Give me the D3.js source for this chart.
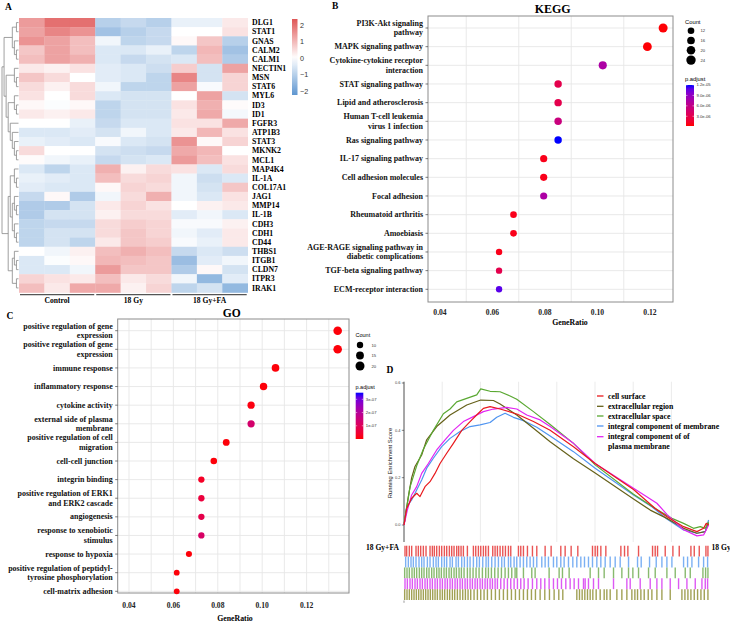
<!DOCTYPE html>
<html><head><meta charset="utf-8">
<script src="https://cdn.jsdelivr.net/npm/d3@7"></script>
<style>body{margin:0;background:#fff} svg{display:block}</style>
</head><body>
<svg id="c" width="730" height="623"></svg>
<script>
// ================= DATA =================
// Panel A: heatmap
const genes = ["DLG1","STAT1","GNAS","CALM2","CALM1","NECTIN1","MSN","STAT6","MYL6","ID3","ID1","FGFR3","ATP1B3","STAT3","MKNK2","MCL1","MAP4K4","IL-1A","COL17A1","JAG1","MMP14","IL-1B","CDH3","CDH1","CD44","THBS1","ITGB1","CLDN7","ITPR3","IRAK1"];
const samples = ["C1","C2","C3","G1","G2","G3","F1","F2","F3"];
const groups = ["Control","18 Gy","18 Gy+FA"];
const groupSamples = [["C1","C2","C3"],["G1","G2","G3"],["F1","F2","F3"]];
const heat = [
 [1.4,2.0,2.0,-1.0,-0.8,-1.0,-0.3,-0.3,0.3],
 [1.3,1.7,1.5,-1.3,-1.0,-0.8,0.0,0.0,0.4],
 [1.5,1.3,0.9,-0.2,-0.9,-0.8,0.1,0.8,-1.0],
 [0.8,1.3,0.9,-0.5,-0.5,-0.3,-0.9,1.0,-1.3],
 [0.9,1.3,1.1,-0.5,-0.8,-0.6,-0.5,0.9,-1.1],
 [0.3,0.2,0.4,-0.4,-0.5,-0.7,0.7,-0.6,1.3],
 [0.8,0.5,0.0,-0.4,-0.5,-0.9,1.7,-0.6,0.6],
 [0.5,0.2,0.5,-0.2,-0.9,-0.9,1.3,-0.1,0.6],
 [0.4,0.0,0.5,-0.5,-0.6,-0.6,0.0,1.3,-0.6],
 [0.1,-0.05,0.1,-0.9,-0.6,-0.6,0.4,1.1,0.05],
 [0.3,0.2,0.3,-0.9,-0.6,-0.6,0.3,1.2,-0.15],
 [0.0,0.0,-0.3,-0.8,-0.5,-0.5,0.4,0.4,1.2],
 [-0.5,-0.5,-0.4,-0.6,-0.2,-0.5,0.3,1.0,0.4],
 [-0.3,-0.4,-0.5,-0.1,-0.5,-0.6,1.5,0.1,0.6],
 [0.5,0.0,0.0,-0.6,-0.7,-0.8,1.2,1.0,0.0],
 [0.05,-0.2,-0.3,-0.8,-0.6,-0.5,1.4,0.9,0.4],
 [-0.5,-0.9,-0.5,1.1,0.2,0.5,0.4,-0.5,0.5],
 [-0.3,-0.4,-0.5,0.9,0.5,0.6,-0.2,-0.7,-0.5],
 [-0.4,-0.5,-0.5,0.1,0.6,0.5,-0.2,-0.6,0.8],
 [-0.8,0.1,-1.1,-0.2,0.5,1.1,-0.2,-0.5,0.4],
 [-1.1,-1.1,-0.6,0.3,0.6,0.4,0.0,0.2,0.3],
 [-1.1,-0.6,-0.6,0.2,0.5,0.5,-0.4,-0.2,-0.5],
 [-0.9,-0.8,-0.8,0.5,0.7,0.6,-0.1,-0.1,0.2],
 [-0.9,-0.6,-0.6,0.5,0.8,0.6,-0.2,-0.4,0.3],
 [-0.9,-0.6,-0.9,0.3,0.8,0.7,-0.1,-0.3,0.3],
 [0.0,-0.2,0.2,0.9,1.1,0.9,-0.8,-0.5,-0.7],
 [-0.5,-0.05,0.1,1.0,0.9,0.8,-1.4,-0.4,-0.2],
 [-0.5,-0.5,-0.2,1.4,0.8,0.8,-1.1,0.1,-0.6],
 [0.6,0.4,0.3,0.9,0.3,0.5,-0.2,-1.5,-0.4],
 [0.9,0.3,1.2,1.2,0.2,0.6,-0.9,-0.6,-1.5]
];
const heatLegendTicks = [2,1,0,-1,-2];
// row dendrogram (leaf = row index)
const dendroTree = [[[[0,1],[2,[3,4]]],[[5,[6,7]],[[8,[9,10]],[11,[12,[13,[14,15]]]]]]],
                    [[[16,[17,18]],[[19,[20,21]],[22,[23,24]]]],[[25,[26,27]],[28,29]]]];

// Panel B: KEGG
const keggTerms = ["PI3K-Akt signaling\npathway","MAPK signaling pathway","Cytokine-cytokine receptor\ninteraction","STAT signaling pathway","Lipid and atherosclerosis","Human T-cell leukemia\nvirus 1 infection","Ras signaling pathway","IL-17 signaling pathway","Cell adhesion molecules","Focal adhesion","Rheumatoid arthritis","Amoebiasis","AGE-RAGE signaling pathway in\ndiabetic complications","TGF-beta signaling pathway","ECM-receptor interaction"];
const keggRatio = [0.125,0.119,0.102,0.085,0.085,0.085,0.085,0.0795,0.0795,0.0795,0.068,0.068,0.0625,0.0625,0.0625];
const keggCount = [22,21,18,15,15,15,15,14,14,14,12,12,11,11,11];
const keggPadj = [3e-7,3e-7,7.5e-6,3.0e-6,3.0e-6,5.5e-6,1.2e-5,8e-7,8e-7,7.5e-6,8e-7,8e-7,8e-7,3.0e-6,1.1e-5];
const keggTickLabels = [0.04,0.06,0.08,0.10,0.12];
const keggGrid = [0.05,0.07,0.09,0.11];
const keggSizeBreaks = [12,16,20,24];
const keggPadjBreaks = [1.2e-5,9.0e-6,6.0e-6,3.0e-6];
const keggPadjLabels = ["1.2e-05","9.0e-06","6.0e-06","3.0e-06"];

// Panel C: GO
const goTerms = ["positive regulation of gene\nexpression","positive regulation of gene\nexpression","immune response","inflammatory response","cytokine activity","external side of plasma\nmembrane","positive regulation of cell\nmigration","cell-cell junction","integrin binding","positive regulation of ERK1\nand ERK2 cascade","angiogenesis","response to xenobiotic\nstimulus","response to hypoxia","positive regulation of peptidyl-\ntyrosine phosphorylation","cell-matrix adhesion"];
const goRatio = [0.134,0.134,0.106,0.1006,0.095,0.095,0.0838,0.0782,0.0726,0.0726,0.0726,0.0726,0.067,0.0615,0.0615];
const goCount = [24,24,19,18,17,17,15,14,13,13,13,13,12,11,11];
const goPadj = [5e-9,5e-9,5e-9,5e-9,1e-8,1.3e-7,5e-9,5e-9,3e-8,6e-8,8e-8,1.2e-7,5e-9,5e-9,5e-9];
const goTickLabels = [0.04,0.06,0.08,0.10,0.12];
const goGrid = [0.04,0.05,0.06,0.07,0.08,0.09,0.10,0.11,0.12,0.13];
const goSizeBreaks = [10,15,20];
const goPadjBreaks = [3e-7,2e-7,1e-7];
const goPadjLabels = ["3e-07","2e-07","1e-07"];

// Panel D: GSEA (rank, running ES)
const gseaSets = ["cell surface","extracellular region","extracellular space","integral component of membrane","integral component of of\nplasma membrane"];
const esCellSurface = [[0,0],[8,0.07],[23,0.113],[38,0.134],[48,0.12],[63,0.162],[78,0.183],[93,0.218],[108,0.26],[128,0.303],[148,0.345],[173,0.40],[198,0.437],[223,0.472],[238,0.493],[258,0.50],[288,0.49],[338,0.469],[388,0.437],[438,0.40],[508,0.331],[573,0.26],[688,0.15],[753,0.07],[788,0.035],[838,-0.007],[878,-0.028],[898,-0.014],[906,0.007],[913,0]];
const esExtRegion = [[0,0],[13,0.12],[23,0.2],[33,0.247],[53,0.296],[68,0.36],[98,0.416],[138,0.465],[188,0.507],[230,0.528],[268,0.526],[288,0.511],[338,0.465],[388,0.409],[438,0.352],[508,0.28],[573,0.22],[688,0.11],[738,0.063],[788,0.028],[838,-0.014],[878,-0.035],[903,-0.028],[913,0.007]];
const esExtSpace = [[0,0],[10,0.09],[18,0.16],[38,0.25],[58,0.32],[88,0.40],[118,0.47],[138,0.49],[158,0.52],[188,0.535],[218,0.55],[230,0.575],[258,0.565],[288,0.563],[318,0.545],[338,0.531],[388,0.479],[438,0.425],[508,0.345],[573,0.254],[688,0.13],[758,0.065],[803,0.028],[838,0.007],[868,-0.014],[888,-0.007],[903,-0.014],[913,0.014]];
const esIntMembrane = [[0,0],[8,0.077],[23,0.106],[38,0.148],[53,0.19],[68,0.24],[88,0.282],[113,0.331],[138,0.366],[168,0.395],[198,0.416],[228,0.423],[258,0.433],[278,0.455],[303,0.472],[328,0.455],[358,0.441],[398,0.413],[438,0.376],[508,0.31],[573,0.24],[688,0.127],[743,0.077],[788,0.025],[838,-0.021],[878,-0.035],[903,-0.028],[913,0.021]];
const esIntPlasma = [[0,0],[10,0.063],[23,0.127],[38,0.162],[53,0.218],[73,0.26],[98,0.317],[123,0.36],[148,0.40],[178,0.437],[208,0.458],[238,0.479],[268,0.49],[308,0.497],[338,0.49],[368,0.465],[408,0.444],[438,0.416],[508,0.345],[573,0.26],[688,0.155],[758,0.092],[788,0.045],[838,-0.02],[878,-0.046],[898,-0.042],[913,0]];
const gseaYTicks = [0,0.2,0.4,0.6];
const gseaGrid = [114.5,229,343.5,458,572.5,687,801.5];
const gseaRankMax = 916;
// barcode hit positions (rank)
const hitsRed = [3,8,16,23,36,43,50,58,66,78,85,91,98,106,113,121,128,136,143,150,158,164,171,178,190,208,215,223,230,238,245,253,266,273,280,288,296,304,313,320,343,350,358,370,385,398,423,441,470,483,501,521,565,573,580,590,605,650,661,671,703,745,753,760,783,806,825,860,870,885,905,911];
const hitsBlue = [5,13,21,28,36,45,53,60,70,78,88,96,103,113,121,128,138,145,156,163,173,181,190,198,208,218,226,236,246,253,263,273,283,293,301,313,320,330,338,348,358,368,378,388,398,413,423,433,448,458,470,480,493,506,518,530,541,553,565,578,590,603,618,633,648,673,700,711,736,756,773,788,803,838,850,863,883,898,910];
const hitsGreen = [2,9,16,24,31,38,46,53,60,68,75,83,90,98,105,112,120,127,135,142,150,157,165,172,180,190,198,207,216,225,235,245,253,262,272,282,292,303,313,323,333,338,358,383,393,435,465,475,495,558,583,600,628,653,673,686,703,733,753,788,813,843,858,896,904,911];
const hitsMagenta = [3,10,18,25,33,40,48,55,63,70,78,85,93,100,108,115,123,130,138,145,153,160,168,175,183,190,198,205,213,220,228,235,243,250,258,265,273,280,290,300,310,320,330,340,350,360,372,385,398,410,422,435,448,460,472,485,498,510,523,538,543,553,568,583,628,668,678,708,738,758,773,798,823,848,873,893,903,910];
const hitsOlive = [2,9,16,23,30,37,44,51,58,65,72,79,86,93,100,108,115,122,130,137,145,152,160,168,176,184,192,200,210,220,230,240,250,262,274,286,298,310,322,334,346,358,370,382,394,408,422,436,450,464,476,518,526,534,542,550,558,566,576,588,600,608,618,638,653,668,683,692,700,710,720,732,743,758,773,798,833,842,851,860,870,880,890,900,911];

// ================= DRAWING =================
const SERIF = "'Liberation Serif','Times New Roman',serif";
const SANS = "'Liberation Sans',Arial,sans-serif";
const svg = d3.select("#c");

function stext(g, x, y, str, size, anchor, opts = {}) {
  return g.append("text").attr("x", x).attr("y", y)
    .attr("font-family", opts.family || SERIF)
    .attr("font-weight", opts.weight || "bold")
    .attr("font-size", size).attr("text-anchor", anchor || "start")
    .attr("fill", opts.fill || "#000").text(str);
}
function multiText(g, x, yc, str, size, anchor, lh) {
  const lines = str.split("\n");
  const t = g.append("text").attr("text-anchor", anchor)
    .attr("font-family", SERIF).attr("font-weight", "bold").attr("font-size", size).attr("fill", "#111");
  const y0 = yc - (lines.length - 1) * lh / 2 + size * 0.33;
  lines.forEach((l, i) => t.append("tspan").attr("x", x).attr("y", y0 + i * lh).text(l));
}

// panel letters
stext(svg, 5, 9.5, "A", 9.5, "start");
stext(svg, 332, 9, "B", 9.5, "start");
stext(svg, 6.5, 318.5, "C", 9.5, "start");
stext(svg, 386.5, 372.5, "D", 9.5, "start");

// ---------- Panel A ----------
const gA = svg.append("g");
const rowY = d3.scaleBand().domain(genes).range([18, 292.5]);
const colX = d3.scaleBand().domain(samples).range([19, 247.7]);
const heatColor = d3.scaleLinear().domain([-2.3, 0, 2.3]).range(["#5a93cf", "#ffffff", "#e05a5a"]);
const cells = [];
heat.forEach((row, i) => row.forEach((v, j) => cells.push({g: genes[i], s: samples[j], v})));
gA.selectAll("rect.cell").data(cells).join("rect")
  .attr("x", d => colX(d.s)).attr("y", d => rowY(d.g))
  .attr("width", colX.bandwidth() + 0.3).attr("height", rowY.bandwidth() + 0.3)
  .attr("fill", d => heatColor(d.v));
gA.selectAll("text.gene").data(genes).join("text")
  .attr("x", 252).attr("y", d => rowY(d) + rowY.bandwidth() / 2 + 2.7)
  .attr("font-family", SERIF).attr("font-weight", "bold").attr("font-size", 7.8).text(d => d);

// dendrogram
const root = d3.hierarchy(dendroTree, d => Array.isArray(d) ? d : null);
const dX0 = 2, dX1 = 18.5, H = root.height;
root.eachAfter(n => {
  n.px = dX0 + (1 - n.height / H) * (dX1 - dX0);
  if (!n.children) n.py = rowY(genes[n.data]) + rowY.bandwidth() / 2;
  else n.py = (n.children[0].py + n.children[n.children.length - 1].py) / 2;
});
const dPath = [];
root.each(n => {
  if (n.children) {
    const a = n.children[0], b = n.children[n.children.length - 1];
    dPath.push(`M${a.px},${a.py}H${n.px}V${b.py}H${b.px}`);
  }
});
gA.append("path").attr("d", dPath.join("")).attr("fill", "none").attr("stroke", "#888").attr("stroke-width", 0.8);

// group bars + labels
groups.forEach((gname, k) => {
  const ss = groupSamples[k];
  const x0 = colX(ss[0]) + 1, x1 = colX(ss[ss.length - 1]) + colX.bandwidth() - 1;
  gA.append("line").attr("x1", x0).attr("x2", x1).attr("y1", 294.6).attr("y2", 294.6)
    .attr("stroke", "#555").attr("stroke-width", 1.2);
  stext(gA, (x0 + x1) / 2, 303, gname, 7.6, "middle");
});

// heat legend
const hLegY = d3.scaleLinear().domain([2.36, -2.24]).range([19, 95]);
const defs = svg.append("defs");
const hg = defs.append("linearGradient").attr("id", "hgrad").attr("x1", 0).attr("x2", 0).attr("y1", 0).attr("y2", 1);
d3.range(0, 1.0001, 0.1).forEach(t => hg.append("stop").attr("offset", t).attr("stop-color", heatColor(hLegY.invert(19 + t * 76))));
gA.append("rect").attr("x", 292).attr("y", 19).attr("width", 5.5).attr("height", 76).attr("fill", "url(#hgrad)");
gA.selectAll("text.hl").data(heatLegendTicks).join("text")
  .attr("x", 300).attr("y", d => hLegY(d) + 2.6).attr("font-family", SANS).attr("font-size", 7.2).attr("fill", "#333")
  .text(d => d < 0 ? "\u2212" + Math.abs(d) : String(d));

// ---------- dot-plot helper ----------
function dotPanel(cfg) {
  const g = svg.append("g");
  const {left, right, top, bottom} = cfg;
  const x = d3.scaleLinear().domain(cfg.xDom).range(cfg.xRange);
  const idx = cfg.terms.map((_, i) => i);
  const y = d3.scalePoint().domain(idx).range(cfg.yRange);
  g.append("rect").attr("x", left).attr("y", top).attr("width", right - left).attr("height", bottom - top).attr("fill", "#fff");
  g.selectAll("line.vg").data(cfg.grid).join("line")
    .attr("x1", d => x(d)).attr("x2", d => x(d)).attr("y1", top).attr("y2", bottom)
    .attr("stroke", "#e6e6e6").attr("stroke-width", 0.9);
  g.selectAll("line.hg").data(idx).join("line")
    .attr("x1", left).attr("x2", right).attr("y1", d => y(d)).attr("y2", d => y(d))
    .attr("stroke", "#e6e6e6").attr("stroke-width", 0.9);
  g.append("rect").attr("x", left).attr("y", top).attr("width", right - left).attr("height", bottom - top)
    .attr("fill", "none").attr("stroke", "#8c8c8c").attr("stroke-width", 1);
  g.selectAll("line.yt").data(idx).join("line")
    .attr("x1", left - 2.5).attr("x2", left).attr("y1", d => y(d)).attr("y2", d => y(d))
    .attr("stroke", "#444").attr("stroke-width", 0.7);
  idx.forEach(i => multiText(g, left - 5, y(i), cfg.terms[i], cfg.labSize, "end", 9.3));
  const color = d3.scaleLinear().domain(cfg.pDom).range(["red", "blue"]).interpolate(d3.interpolateLab).clamp(true);
  const r = d3.scaleSqrt().domain([0, cfg.rMaxCount]).range([0, cfg.rMax]);
  g.selectAll("circle.dot").data(idx).join("circle")
    .attr("cx", i => x(cfg.ratio[i])).attr("cy", i => y(i)).attr("r", i => r(cfg.count[i]))
    .attr("fill", i => color(cfg.padj[i]));
  g.selectAll("text.xt").data(cfg.tickLabels).join("text")
    .attr("x", d => x(d)).attr("y", cfg.tickY).attr("text-anchor", "middle")
    .attr("font-family", SERIF).attr("font-weight", "bold").attr("font-size", 7.6).attr("fill", "#222")
    .text(d => d3.format(".2f")(d));
  stext(g, cfg.xLabX, cfg.xLabY, "GeneRatio", 7.8, "middle");
  stext(g, cfg.titleX, cfg.titleY, cfg.title, cfg.titleSize, "middle");
  // size legend
  const L = cfg.leg;
  stext(g, L.x, L.countY, "Count", L.titleSize, "start", {family: SANS, weight: "normal"});
  cfg.sizeBreaks.forEach((c, k) => {
    g.append("circle").attr("cx", L.cx).attr("cy", L.cy0 + k * L.cdy).attr("r", r(c) * L.rScale).attr("fill", "#000");
    stext(g, L.lx, L.cy0 + k * L.cdy + 1.6, String(c), L.labSize, "start", {family: SANS, weight: "normal", fill: "#333"});
  });
  stext(g, L.x, L.pTitleY, "p.adjust", L.titleSize, "start", {family: SANS, weight: "normal"});
  const py = d3.scaleLinear().domain([cfg.pDom[1], cfg.pDom[0]]).range([L.barTop, L.barBot]);
  const gid = "pg" + cfg.title;
  const pg = defs.append("linearGradient").attr("id", gid).attr("x1", 0).attr("x2", 0).attr("y1", 0).attr("y2", 1);
  d3.range(0, 1.0001, 0.1).forEach(t => pg.append("stop").attr("offset", t).attr("stop-color", color(py.invert(L.barTop + t * (L.barBot - L.barTop)))));
  g.append("rect").attr("x", L.barX).attr("y", L.barTop).attr("width", L.barW).attr("height", L.barBot - L.barTop).attr("fill", `url(#${gid})`);
  cfg.padjBreaks.forEach((v, k) => {
    g.append("line").attr("x1", L.barX).attr("x2", L.barX + 1.5).attr("y1", py(v)).attr("y2", py(v)).attr("stroke", "#fff").attr("stroke-width", 0.5);
    g.append("line").attr("x1", L.barX + L.barW - 1.5).attr("x2", L.barX + L.barW).attr("y1", py(v)).attr("y2", py(v)).attr("stroke", "#fff").attr("stroke-width", 0.5);
    stext(g, L.barX + L.barW + 2.5, py(v) + 1.4, cfg.padjLabels[k], L.labSize, "start", {family: SANS, weight: "normal", fill: "#333"});
  });
}

dotPanel({
  title: "KEGG", titleX: 552.7, titleY: 13.3, titleSize: 12,
  terms: keggTerms, ratio: keggRatio, count: keggCount, padj: keggPadj,
  left: 428, right: 673, top: 16, bottom: 302,
  xDom: [0.04, 0.12], xRange: [440, 650], yRange: [28, 289.3],
  grid: keggGrid, tickLabels: keggTickLabels, tickY: 314.5,
  xLabX: 570, xLabY: 325, labSize: 8,
  pDom: [2e-7, 1.2e-5], rMaxCount: 24, rMax: 4.7,
  sizeBreaks: keggSizeBreaks, padjBreaks: keggPadjBreaks, padjLabels: keggPadjLabels,
  leg: {x: 685, countY: 23.5, cx: 691, cy0: 30.7, cdy: 9.8, rScale: 1, lx: 700.5, labSize: 4.2, titleSize: 5.8,
        pTitleY: 81, barX: 686, barW: 8, barTop: 85, barBot: 126}
});

dotPanel({
  title: "GO", titleX: 231.7, titleY: 317, titleSize: 11.5,
  terms: goTerms, ratio: goRatio, count: goCount, padj: goPadj,
  left: 117.7, right: 349, top: 319, bottom: 593,
  xDom: [0.04, 0.12], xRange: [129, 306.6], yRange: [330.7, 591.3],
  grid: goGrid, tickLabels: goTickLabels, tickY: 607.5,
  xLabX: 235, xLabY: 620.5, labSize: 8,
  pDom: [0, 3.5e-7], rMaxCount: 24, rMax: 4.3,
  sizeBreaks: goSizeBreaks, padjBreaks: goPadjBreaks, padjLabels: goPadjLabels,
  leg: {x: 355.5, countY: 337, cx: 360, cy0: 345, cdy: 10.5, rScale: 1.15, lx: 371.5, labSize: 4.2, titleSize: 5.5,
        pTitleY: 389, barX: 355.7, barW: 7.6, barTop: 392.7, barBot: 439}
});

// ---------- Panel D ----------
const gD = svg.append("g");
const xD = d3.scaleLinear().domain([0, gseaRankMax]).range([404, 709.6]);
const yD = d3.scaleLinear().domain([0, 0.6]).range([525, 383]);
const dTop = 381.7, dBot = 542;
gD.selectAll("line.vg").data(gseaGrid).join("line")
  .attr("x1", d => xD(d)).attr("x2", d => xD(d)).attr("y1", dTop).attr("y2", dBot)
  .attr("stroke", "#ebebeb").attr("stroke-width", 1);
gD.append("line").attr("x1", 404).attr("x2", 404).attr("y1", dTop).attr("y2", dBot).attr("stroke", "#222").attr("stroke-width", 0.8);
gD.selectAll("line.yt").data(gseaYTicks).join("line")
  .attr("x1", 401.8).attr("x2", 404).attr("y1", d => yD(d)).attr("y2", d => yD(d)).attr("stroke", "#333").attr("stroke-width", 0.6);
gD.selectAll("text.yt").data(gseaYTicks).join("text")
  .attr("x", 400.5).attr("y", d => yD(d) + 1.4).attr("text-anchor", "end")
  .attr("font-family", SANS).attr("font-size", 4).attr("fill", "#444").text(d => d3.format(".1f")(d));
gD.append("text").attr("transform", "translate(391.5,463) rotate(-90)").attr("text-anchor", "middle")
  .attr("font-family", SANS).attr("font-size", 5.9).attr("fill", "#222").text("Running Enrichment Score");

const curveColors = ["#e8191d", "#66611a", "#5aa832", "#4f94f0", "#e224f2"];
const esSeries = [esCellSurface, esExtRegion, esExtSpace, esIntMembrane, esIntPlasma];
const line = d3.line().x(d => xD(d[0])).y(d => yD(d[1]));
const drawOrder = [3, 1, 2, 4, 0];
drawOrder.forEach(k => gD.append("path").attr("d", line(esSeries[k])).attr("fill", "none")
  .attr("stroke", curveColors[k]).attr("stroke-width", 1.2).attr("stroke-linejoin", "round"));

// barcode
const hitSets = [hitsRed, hitsBlue, hitsGreen, hitsMagenta, hitsOlive];
const hitColors = ["#e32b2b", "#5a9cf0", "#6aa84a", "#d530f0", "#8a8a2a"];
const rugY = d3.scaleBand().domain([0, 1, 2, 3, 4]).range([545.7, 600]);
hitSets.forEach((hs, k) => {
  gD.selectAll("line.h" + k).data(hs).join("line")
    .attr("x1", d => xD(d)).attr("x2", d => xD(d))
    .attr("y1", rugY(k)).attr("y2", rugY(k) + rugY.bandwidth())
    .attr("stroke", hitColors[k]).attr("stroke-width", 1.4).attr("stroke-opacity", 0.8);
});
gD.append("line").attr("x1", 404).attr("x2", 404).attr("y1", 600.5).attr("y2", 602.8).attr("stroke", "#555").attr("stroke-width", 0.6);
stext(gD, 399, 550, "18 Gy+FA", 7.6, "end");
stext(gD, 711.5, 550, "18 Gy", 7.6, "start");

// legend
const legY = [396, 406.3, 416, 426, 436.7];
gseaSets.forEach((s, k) => {
  gD.append("line").attr("x1", 597).attr("x2", 603.5).attr("y1", legY[k]).attr("y2", legY[k])
    .attr("stroke", curveColors[k]).attr("stroke-width", 1.3);
  const lines = s.split("\n");
  lines.forEach((l, i) => stext(gD, 608, legY[k] + 2.6 + i * 9.6, l, 7.8, "start"));
});
</script>
</body></html>
